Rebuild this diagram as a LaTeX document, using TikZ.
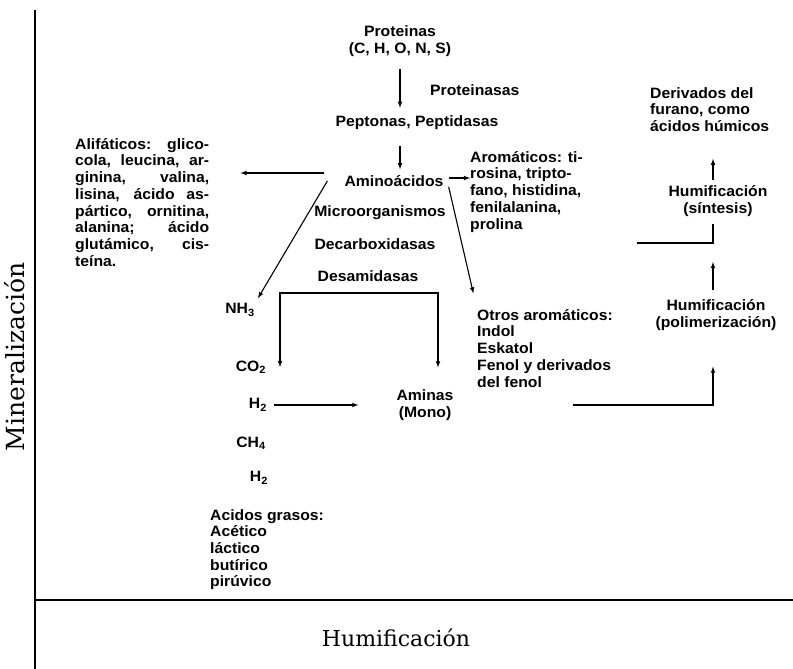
\documentclass[tikz,border=0pt]{standalone}
\usepackage{fontspec}
\setmainfont{DejaVu Serif}
\setsansfont{Liberation Sans}[FakeStretch=1.05]
\usetikzlibrary{arrows,calc,positioning}

\begin{document}
\begin{tikzpicture}[
    x=1pt, y=-1pt,
    txt/.style={font=\sffamily\bfseries\fontsize{15}{16.7}\selectfont, inner sep=0pt, align=center},
    bloque/.style={txt, align=left, anchor=north west},
    flecha/.style={-latex, line width=1.1pt},
    linea/.style={line width=1.1pt},
    eje/.style={line width=1.8pt},
    rotulo/.style={font=\fontsize{22}{26}\selectfont}
 ]
\useasboundingbox (0,0) rectangle (793,669);

% ejes
\coordinate (ejeTop) at (35,10);
\coordinate (ejeBot) at (35,669);
\coordinate (ejeO) at (35,600);
\coordinate (ejeDer) at (793,600);
\draw[eje] (ejeTop) -- (ejeBot);
\draw[eje] (ejeO) -- (ejeDer);
\node[rotulo, font=\fontsize{25}{28}\selectfont, rotate=90] (mine) at (15,357) {Mineralización};
\node[rotulo] (humi) at (396,638) {Humificación};

% columna central
\node[txt] (prot) at (400,41) {Proteinas\\(C, H, O, N, S)};
\node[txt, anchor=west] (ptsas) at (430,90) {Proteinasas};
\node[txt] (pept) at (417,123) {Peptonas, Peptidasas};
\node[txt] (amino) at (394,181) {Aminoácidos};
\node[txt] (micro) at (380,213) {Microorganismos};
\node[txt] (decar) at (375,244) {Decarboxidasas};
\node[txt] (desam) at (368,276) {Desamidasas};

\node[bloque] (alif) at (75,138) {%
\makebox[134pt][s]{Alifáticos: glico-}\\
\makebox[134pt][s]{cola, leucina, ar-}\\
\makebox[134pt][s]{ginina, valina,}\\
\makebox[134pt][s]{lisina, ácido as-}\\
\makebox[134pt][s]{pártico, ornitina,}\\
\makebox[134pt][s]{alanina; ácido}\\
\makebox[134pt][s]{glutámico, cis-}\\
teína.};
\node[bloque] (arom) at (470,151) {Aromáticos: ti-\\rosina, tripto-\\fano, histidina,\\fenilalanina,\\prolina};

% gases
\node[txt] (nh3) at (240,310) {NH\textsubscript{3}};
\node[txt] (co2) at (251,367) {CO\textsubscript{2}};
\node[txt] (h2a) at (258,405) {H\textsubscript{2}};
\node[txt] (ch4) at (251,443) {CH\textsubscript{4}};
\node[txt] (h2b) at (259,478) {H\textsubscript{2}};
\node[bloque] (acid) at (210,509) {Acidos grasos:\\Acético\\láctico\\butírico\\pirúvico};
\node[txt] (aminas) at (425,405) {Aminas\\(Mono)};
\node[bloque] (otros) at (477,309) {Otros aromáticos:\\Indol\\Eskatol\\Fenol y derivados\\del fenol};

% humificacion
\node[txt] (poli) at (716,315) {Humificación\\(polimerización)};
\node[txt] (sint) at (718,201) {Humificación\\(síntesis)};
\node[bloque] (deriv) at (650,87) {Derivados del\\furano, como\\ácidos húmicos};

\coordinate (colC) at (400,0);
\coordinate (colH) at (713,0);
\coordinate (brkL) at (280,293);
\coordinate (brk) at (438,293);
\coordinate (finOtros) at (573,405);
\coordinate (esqS) at (713,243);
\coordinate (finS) at (637,243);

\draw[flecha, shorten <=12pt, shorten >=8pt] (colC |- prot.south) -- (colC |- pept.north);
\draw[flecha, shorten <=16pt, shorten >=6pt] (colC |- pept.south) -- (colC |- amino.north);
\draw[flecha, shorten <=20pt, shorten >=31pt] ([yshift=8pt]amino.west) -- ([yshift=8pt]amino.west -| alif.east);
\draw[flecha, shorten <=5pt] ([yshift=3pt]amino.east) -- ([yshift=3pt]amino.east -| arom.west);
\draw[flecha, shorten >=6pt] ([xshift=-17pt]amino.west) -- (nh3.north east);
\draw[flecha, shorten >=16pt] ([xshift=5pt]amino.south east) -- (otros.north west);
\draw[linea, latex-latex, shorten >=22pt] (co2.east -| brkL) -- (brkL) -- (brk) -- (brk |- aminas.north);
\draw[flecha, shorten <=7pt, shorten >=38pt] (h2a.east) -- (aminas.west |- h2a.east);
\draw[flecha, shorten >=36pt] (finOtros) -| (colH |- poli.south);
\draw[flecha, shorten <=9pt, shorten >=19pt] (colH |- poli.north) -- (esqS);
\draw[linea, shorten <=7pt] (colH |- sint.south) -- (esqS) -- (finS);
\draw[flecha, shorten <=5pt, shorten >=27pt] (colH |- sint.north) -- (colH |- deriv.south);

\end{tikzpicture}
\end{document}
